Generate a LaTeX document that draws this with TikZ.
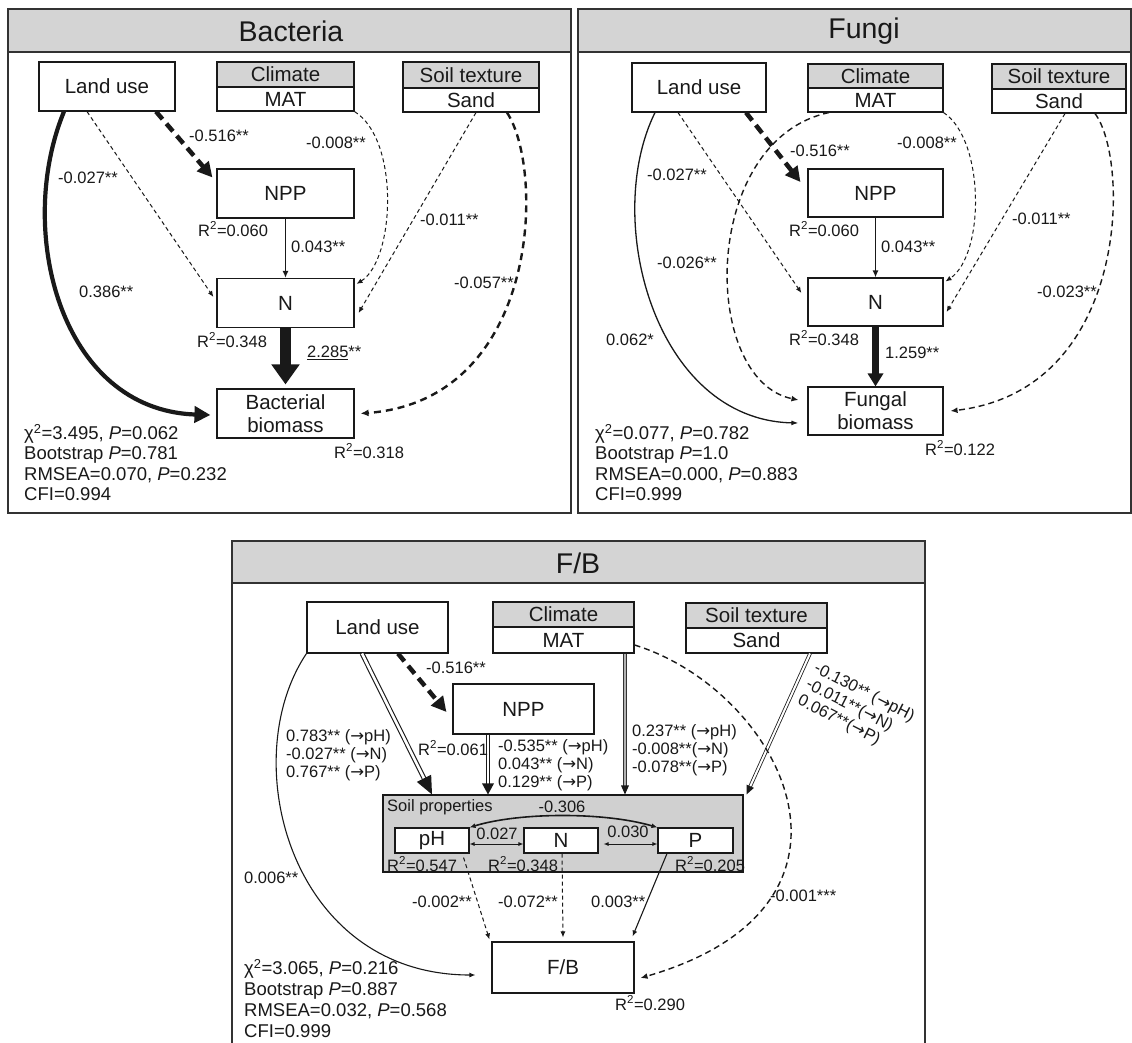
\documentclass[tikz,border=0pt]{standalone}
\usepackage{fontspec}
\setmainfont{Liberation Sans}
\newfontfamily\arrfont{DejaVu Sans}
\usetikzlibrary{arrows.meta,calc}
\newcommand\myfs[2]{\fontsize{#1}{#2}\selectfont}
\newcommand\rarr{{\arrfont →}}
\definecolor{hdr}{RGB}{212,212,212}
\definecolor{ink}{RGB}{25,25,25}
\definecolor{frame}{RGB}{50,50,50}
\definecolor{soilgray}{RGB}{208,208,208}
\begin{document}
\begin{tikzpicture}[x=1pt,y=-1pt,
  box/.style={draw=ink, line width=1.1pt, fill=white, inner sep=0pt, text=ink, font=\myfs{20.5}{23}, align=center},
  hbox/.style={box, fill=hdr},
  lab/.style={inner sep=0pt, anchor=west, text=ink, font=\myfs{16.5}{18}, align=left},
  stat/.style={inner sep=0pt, anchor=west, text=ink, font=\myfs{18.5}{20.5}, align=left},
  ptitle/.style={inner sep=0pt, text=ink, font=\myfs{28.5}{30}},
  panel/.style={draw=frame, line width=2pt},
  thindash/.style={draw=ink, line width=1pt, dash pattern=on 4pt off 3pt, -{Latex[length=6pt,width=5pt]}},
  meddash/.style={draw=ink, line width=1.4pt, dash pattern=on 6pt off 4pt, -{Latex[length=7pt,width=6pt]}},
  bigdash/.style={draw=ink, line width=4.5pt, dash pattern=on 10pt off 6pt, -{Triangle[length=15pt,width=15pt]}},
  thinsolid/.style={draw=ink, line width=1.1pt, -{Latex[length=6pt,width=5pt]}},
  twohead/.style={draw=ink, line width=0.9pt, {Latex[length=5pt,width=4pt]}-{Latex[length=5pt,width=4pt]}},
  dbl/.style={draw=ink, double=white, line width=1.1pt, double distance=2.6pt},
  dblthin/.style={draw=ink, double=white, line width=0.8pt, double distance=2pt},
  dblgray/.style={draw=black!80, double=black!30, line width=0.9pt, double distance=2pt},
  tip/.style={draw=ink, fill=ink, line width=0.4pt}
]
\useasboundingbox (0,0) rectangle (1132,1042);
\fill[white] (0,0) rectangle (1132,1042);

% ================= Bacteria =================
\draw[panel, fill=hdr] (7.5,9) rectangle (571,52);
\draw[panel] (7.5,9) rectangle (571,513);
\node[ptitle] (bT) at (291,31.5) {Bacteria};

\node[box, minimum width=136pt, minimum height=49pt] (b_lu) at (107,86.5) {Land use};
\node[hbox, minimum width=137pt, minimum height=25pt] (b_clim) at (285.5,74.5) {Climate};
\node[box, minimum width=137pt, minimum height=24pt] (b_mat) at (285.5,99) {MAT};
\node[hbox, minimum width=136pt, minimum height=26pt] (b_tex) at (471,75) {Soil texture};
\node[box, minimum width=136pt, minimum height=24pt] (b_sand) at (471,100) {Sand};
\node[box, minimum width=137pt, minimum height=49pt] (b_npp) at (285.5,193.5) {NPP};
\node[box, minimum width=137pt, minimum height=49pt] (b_n) at (285.5,303) {N};
\node[box, minimum width=137pt, minimum height=49pt] (b_bio) at (285.5,413.5) {Bacterial\\biomass};

\draw[draw=ink, line width=4.2pt, -{Triangle[length=16pt,width=16pt]}] ([xshift=-43pt]b_lu.south) .. controls (15,230) and (60,410) .. ([xshift=-6pt,yshift=-1.5pt]b_bio.west);
\draw[thindash] ([xshift=-20pt]b_lu.south) -- ([xshift=-3pt,yshift=6pt]b_n.west);
\draw[bigdash] ([xshift=49pt]b_lu.south) -- ([xshift=-4pt,yshift=-9pt]b_npp.north west);
\draw[thindash] (b_mat.south east) .. controls (400,140) and (395,260) .. ([xshift=2pt,yshift=-6pt]b_n.north east);
\draw[thindash] ([xshift=5pt]b_sand.south) -- ([xshift=4pt,yshift=-10pt]b_n.east);
\draw[draw=ink, line width=2.4pt, dash pattern=on 7pt off 5pt, -{Latex[length=8pt,width=7pt]}] ([xshift=36pt]b_sand.south) .. controls (545,170) and (540,400) .. ([xshift=6pt]b_bio.east);
\draw[draw=ink, line width=1.7pt, -{Latex[length=7pt,width=6pt]}] (b_npp.south) -- (b_n.north);
\draw[draw=ink, line width=11pt, -{Triangle[length=20pt,width=27pt]}] (b_n.south) -- ([yshift=4pt]b_bio.north);

\node[lab] (bl1) at (189,136) {-0.516**};
\node[lab] (bl2) at (306,143) {-0.008**};
\node[lab] (bl3) at (58,178) {-0.027**};
\node[lab] (bl4) at (291,247) {0.043**};
\node[lab] (bl5) at (420,220) {-0.011**};
\node[lab] (bl6) at (79,292) {0.386**};
\node[lab] (bl7) at (454,283) {-0.057**};
\node[lab] (bl8) at (307,353) {\underline{2.285}**};
\node[lab] (br1) at (198,229) {R\textsuperscript{2}=0.060};
\node[lab] (br2) at (197,340) {R\textsuperscript{2}=0.348};
\node[lab] (br3) at (334,451) {R\textsuperscript{2}=0.318};
\node[stat] (bs) at (24,462.5) {χ\textsuperscript{2}=3.495, \textit{P}=0.062\\Bootstrap \textit{P}=0.781\\RMSEA=0.070, \textit{P}=0.232\\CFI=0.994};

% ================= Fungi =================
\draw[panel, fill=hdr] (578,9) rectangle (1131,52);
\draw[panel] (578,9) rectangle (1131,513);
\node[ptitle] (fT) at (864,31.5) {Fungi};

\node[box, minimum width=134pt, minimum height=49pt] (f_lu) at (699,87.5) {Land use};
\node[hbox, minimum width=135pt, minimum height=24pt] (f_clim) at (875.5,76) {Climate};
\node[box, minimum width=135pt, minimum height=24pt] (f_mat) at (875.5,100) {MAT};
\node[hbox, minimum width=134pt, minimum height=25pt] (f_tex) at (1059,76.5) {Soil texture};
\node[box, minimum width=134pt, minimum height=24pt] (f_sand) at (1059,101) {Sand};
\node[box, minimum width=135pt, minimum height=48pt] (f_npp) at (875.5,193) {NPP};
\node[box, minimum width=135pt, minimum height=48pt] (f_n) at (875.5,302) {N};
\node[box, minimum width=135pt, minimum height=48pt] (f_bio) at (875.5,411) {Fungal\\biomass};

\draw[draw=ink, line width=1.3pt, -{Latex[length=7pt,width=5pt]}] ([xshift=-44pt]f_lu.south) .. controls (602,220) and (655,420) .. ([xshift=-9pt,yshift=-12pt]f_bio.west);
\draw[thindash] ([xshift=-21pt]f_lu.south) -- ([xshift=-6pt,yshift=9pt]f_n.west);
\draw[bigdash] ([xshift=47pt]f_lu.south) -- ([xshift=-7pt,yshift=11pt]f_npp.west);
\draw[meddash] ([xshift=-46.5pt]f_mat.south) .. controls (700,140) and (700,380) .. ([xshift=-9pt,yshift=11pt]f_bio.west);
\draw[thindash] (f_mat.south east) .. controls (985,140) and (985,255) .. ([xshift=2pt,yshift=-4pt]f_n.north east);
\draw[thindash] ([xshift=6pt]f_sand.south) -- ([xshift=3pt,yshift=-10pt]f_n.east);
\draw[meddash] ([xshift=36pt]f_sand.south) .. controls (1130,160) and (1130,390) .. ([xshift=7pt]f_bio.east);
\draw[draw=ink, line width=1.7pt, -{Latex[length=7pt,width=6pt]}] (f_npp.south) -- (f_n.north);
\draw[draw=ink, line width=7pt, -{Triangle[length=13pt,width=15pt]}] (f_n.south) -- (f_bio.north);

\node[lab] (fl1) at (790,151) {-0.516**};
\node[lab] (fl2) at (897,143) {-0.008**};
\node[lab] (fl3) at (647,175) {-0.027**};
\node[lab] (fl4) at (881,247) {0.043**};
\node[lab] (fl5) at (1012,219) {-0.011**};
\node[lab] (fl6) at (657,263) {-0.026**};
\node[lab] (fl7) at (1037,292) {-0.023**};
\node[lab] (fl8) at (606,340) {0.062*};
\node[lab] (fl9) at (885,353) {1.259**};
\node[lab] (fr1) at (789,229) {R\textsuperscript{2}=0.060};
\node[lab] (fr2) at (789,338) {R\textsuperscript{2}=0.348};
\node[lab] (fr3) at (925,448) {R\textsuperscript{2}=0.122};
\node[stat] (fs) at (595,462.5) {χ\textsuperscript{2}=0.077, \textit{P}=0.782\\Bootstrap \textit{P}=1.0\\RMSEA=0.000, \textit{P}=0.883\\CFI=0.999};

% ================= F/B =================
\draw[panel, fill=hdr] (232,541) rectangle (925,583);
\draw[panel] (232,1046) -- (232,541) -- (925,541) -- (925,1046);
\node[ptitle] (gT) at (578,563) {F/B};

\node[box, minimum width=141pt, minimum height=51pt] (lu3) at (377.5,627.5) {Land use};
\node[hbox, minimum width=141pt, minimum height=25pt] (clim3) at (563.5,614.5) {Climate};
\node[box, minimum width=141pt, minimum height=26pt] (mat3) at (563.5,640) {MAT};
\node[hbox, minimum width=141pt, minimum height=25pt] (tex3) at (756.5,615.5) {Soil texture};
\node[box, minimum width=141pt, minimum height=25pt] (sand3) at (756.5,640.5) {Sand};
\node[box, minimum width=141pt, minimum height=50pt] (npp3) at (523.5,709) {NPP};
\node[draw=ink, line width=1.1pt, fill=soilgray, minimum width=360pt, minimum height=77pt, inner sep=0pt] (soil) at (563,833.5) {};
\node[box, minimum width=74pt, minimum height=25pt] (ph) at (432,840.5) {pH};
\node[box, minimum width=74pt, minimum height=25pt] (n3) at (561,840.5) {N};
\node[box, minimum width=75pt, minimum height=25pt] (p3) at (695.5,840.5) {P};
\node[box, minimum width=142pt, minimum height=51pt] (fb) at (563,967.5) {F/B};

% soil properties inner texts
\node[lab] (sp) at (387,807) {Soil properties};
\node[lab, anchor=center] (c306) at (562,807) {-0.306};
\node[lab, anchor=center] (c027) at (497,834) {0.027};
\node[lab, anchor=center] (c030) at (628,832) {0.030};
\node[lab] (gr1) at (387,864) {R\textsuperscript{2}=0.547};
\node[lab] (gr2) at (488,864) {R\textsuperscript{2}=0.348};
\node[lab] (gr3) at (675,864) {R\textsuperscript{2}=0.205};

\draw[twohead] ([yshift=-3.5pt]ph.east) -- ([yshift=-3.5pt]n3.west);
\draw[twohead] ([xshift=5pt,yshift=-3.5pt]n3.east) -- ([yshift=-3.5pt]p3.west);
\draw[draw=ink, line width=1.6pt, {Latex[length=6pt,width=5pt]}-{Latex[length=6pt,width=5pt]}] (ph.north east) .. controls (520,812) and (605,812) .. (p3.north west);

% double-line paths with separate tips
\coordinate (d1s) at ([xshift=-15.5pt]lu3.south);
\coordinate (d1e) at ([xshift=-131pt]soil.north);
\draw[dbl] (d1s) -- ($(d1e)!16pt!(d1s)$);
\fill[ink] (d1e) -- ($(d1e)!18pt!(d1s)!8pt!90:(d1s)$) -- ($(d1e)!18pt!(d1s)!8pt!-90:(d1s)$) -- cycle;

\coordinate (d2s) at ([xshift=-35.5pt]npp3.south);
\coordinate (d2e) at ([xshift=-75pt]soil.north);
\draw[dbl] (d2s) -- ($(d2e)!9pt!(d2s)$);
\fill[ink] (d2e) -- ($(d2e)!11pt!(d2s)!6pt!90:(d2s)$) -- ($(d2e)!11pt!(d2s)!6pt!-90:(d2s)$) -- cycle;

\coordinate (d3s) at ([xshift=61.5pt]mat3.south);
\coordinate (d3e) at ([xshift=62pt]soil.north);
\draw[dblgray] (d3s) -- ($(d3e)!7pt!(d3s)$);
\fill[ink] (d3e) -- ($(d3e)!9pt!(d3s)!4pt!90:(d3s)$) -- ($(d3e)!9pt!(d3s)!4pt!-90:(d3s)$) -- cycle;

\coordinate (d4s) at ([xshift=53.5pt]sand3.south);
\coordinate (d4e) at ([xshift=3pt]soil.north east);
\draw[dblthin] (d4s) -- ($(d4e)!7pt!(d4s)$);
\fill[ink] (d4e) -- ($(d4e)!9pt!(d4s)!4pt!90:(d4s)$) -- ($(d4e)!9pt!(d4s)!4pt!-90:(d4s)$) -- cycle;

\draw[bigdash] ([xshift=20.5pt]lu3.south) -- ([xshift=-6pt,yshift=-3pt]npp3.west);
\draw[meddash] ([yshift=-5pt]mat3.east) .. controls (780,690) and (893,905) .. ([xshift=6pt,yshift=-10.5pt]fb.east);
\draw[thinsolid] (lu3.south west) .. controls (235,760) and (290,975) .. ([xshift=-16pt,yshift=-7.5pt]fb.west);
\draw[thindash] ([xshift=-6pt,yshift=-4pt]ph.south east) -- ([xshift=-2pt,yshift=2pt]fb.north west);
\draw[thindash] ([xshift=1pt]n3.south) -- ([yshift=4pt]fb.north);
\draw[thinsolid] ([xshift=-28.5pt]p3.south) -- ([xshift=-2pt,yshift=5pt]fb.north east);

\node[lab] (gl1) at (426,668) {-0.516**};
\node[lab] (gl2) at (286,755) {0.783** (\rarr pH)\\-0.027** (\rarr N)\\0.767** (\rarr P)};
\node[lab] (gr0) at (418,748) {R\textsuperscript{2}=0.061};
\node[lab] (gl3) at (498,765) {-0.535** (\rarr pH)\\0.043** (\rarr N)\\0.129** (\rarr P)};
\node[lab] (gl4) at (632,750) {0.237** (\rarr pH)\\-0.008**(\rarr N)\\-0.078**(\rarr P)};
\node[lab, anchor=center, rotate=-27] (gl5) at (856,709) {-0.130** (\rarr pH)\\-0.011**(\rarr N)\\0.067**(\rarr P)};
\node[lab] (gl6) at (244,878) {0.006**};
\node[lab] (gl7) at (412,902) {-0.002**};
\node[lab] (gl8) at (498,902) {-0.072**};
\node[lab] (gl9) at (591,902) {0.003**};
\node[lab] (gl10) at (770,896) {-0.001***};
\node[lab] (gr4) at (615,1003) {R\textsuperscript{2}=0.290};
\node[stat, font=\myfs{18.5}{21}] (gs) at (244,998.5) {χ\textsuperscript{2}=3.065, \textit{P}=0.216\\Bootstrap \textit{P}=0.887\\RMSEA=0.032, \textit{P}=0.568\\CFI=0.999};
\end{tikzpicture}
\end{document}
